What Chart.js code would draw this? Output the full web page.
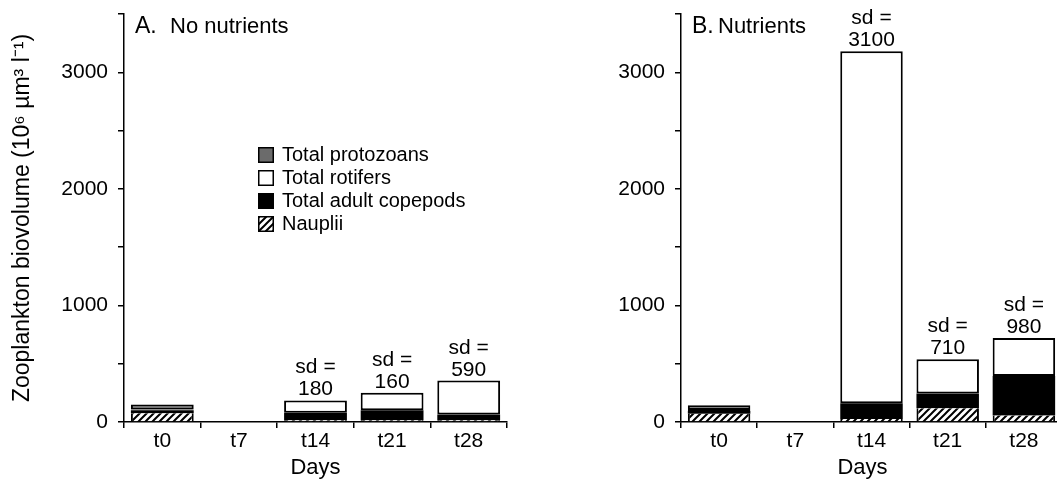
<!DOCTYPE html>
<html>
<head>
<meta charset="utf-8">
<script src="https://cdn.jsdelivr.net/npm/chart.js@4/dist/chart.umd.min.js"></script>
<style>
html, body { margin: 0; padding: 0; background: #fff; overflow: hidden; width: 1057px; height: 483px; }
canvas { position: absolute; top: 0; }
#chartA { left: 0; }
#chartB { left: 540px; }
</style>
</head>
<body>
<canvas id="chartA" width="520" height="483"></canvas>
<canvas id="chartB" width="540" height="483"></canvas>
<script>
// categories
const days = ["t0", "t7", "t14", "t21", "t28"];

// A. No nutrients (10^6 um3 l-1)
const naupliiA    = [75, null, 15, 15, 15];
const copepodsA   = [25, null, 65, 85, 50];
const rotifersA   = [8, null, 105, 150, 290];
const protozoansA = [42, null, 0, 0, 0];
const sdA = [null, null, 180, 160, 590];

// B. Nutrients
const naupliiB    = [70, null, 25, 117, 55];
const copepodsB   = [25, null, 135, 128, 340];
const rotifersB   = [8, null, 3020, 293, 325];
const protozoansB = [40, null, 0, 0, 0];
const sdB = [null, null, 3100, 710, 980];

// y axis ticks
const yMax = 3500;
const yStep = 500;
const yLabelEvery = 1000;

const FONT = '"Liberation Sans", Arial, Helvetica, sans-serif';
Chart.defaults.font.family = FONT;
Chart.defaults.color = "#000";

// diagonal hatch for nauplii
function makeHatch() {
    const c = document.createElement("canvas");
    c.width = 7; c.height = 7;
    const x = c.getContext("2d");
    x.fillStyle = "#fff";
    x.fillRect(0, 0, 7, 7);
    x.strokeStyle = "#000";
    x.lineWidth = 2;
    x.beginPath();
    x.moveTo(-1, 8); x.lineTo(8, -1);
    x.moveTo(-2, 2); x.lineTo(2, -2);
    x.moveTo(5, 9); x.lineTo(9, 5);
    x.stroke();
    return x.createPattern(c, "repeat");
}
const hatch = makeHatch();

// panel letter, x title, sd labels and legend
const extras = {
    id: "extras",
    afterDraw(chart, args, opts) {
        const ctx = chart.ctx;
        const area = chart.chartArea;
        ctx.save();
        ctx.fillStyle = "#000";
        ctx.textBaseline = "alphabetic";
        ctx.textAlign = "left";
        ctx.font = "23px " + FONT;
        ctx.fillText(opts.letter, area.left + 11, area.top + 19);
        ctx.font = "22px " + FONT;
        ctx.fillText(opts.label, area.left + opts.gap, area.top + 19);

        // x axis title (the right panel's is set a little left of centre)
        ctx.textAlign = "center";
        ctx.textBaseline = "middle";
        ctx.font = "22px " + FONT;
        ctx.fillText("Days", (area.left + area.right) / 2 + opts.daysShift, chart.scales.x.bottom - 15);

        // sd labels above stacked bars
        const topMeta = chart.getDatasetMeta(chart.data.datasets.length - 1);
        ctx.textBaseline = "alphabetic";
        ctx.font = "21px " + FONT;
        opts.sd.forEach((v, i) => {
            if (v == null) return;
            const bar = topMeta.data[i];
            ctx.fillText(String(v), bar.x, bar.y - 5);
            ctx.fillText("sd =", bar.x, bar.y - 27);
        });

        // legend
        if (opts.legend) {
            const ds = chart.data.datasets.slice().reverse();
            ctx.textAlign = "left";
            ctx.textBaseline = "middle";
            ctx.font = "20px " + FONT;
            ds.forEach((d, i) => {
                const y = 147 + i * 23;
                ctx.fillStyle = d.backgroundColor;
                ctx.fillRect(258, y, 16, 16);
                ctx.strokeStyle = "#000";
                ctx.lineWidth = 1.5;
                ctx.strokeRect(258.75, y + 0.75, 14.5, 14.5);
                ctx.fillStyle = "#000";
                ctx.fillText(d.label, 282, y + 8);
            });
        }
        ctx.restore();
    }
};

function makeDatasets(nauplii, copepods, rotifers, protozoans) {
    return [
        { label: "Nauplii", data: nauplii, backgroundColor: hatch, borderColor: "#000",
          borderWidth: { left: 2, right: 2, top: 0, bottom: 0 } },
        { label: "Total adult copepods", data: copepods, backgroundColor: "#000", borderColor: "#000", borderWidth: 0 },
        { label: "Total rotifers", data: rotifers, backgroundColor: "#fff", borderColor: "#000", borderWidth: 2, borderSkipped: false },
        { label: "Total protozoans", data: protozoans, backgroundColor: "#6b6b6b", borderColor: "#000", borderWidth: 2, borderSkipped: false }
    ];
}

function makeChart(id, datasets, yWidth, rightPad, showTitle, extraOpts) {
    const ctx = document.getElementById(id).getContext("2d");
    return new Chart(ctx, {
        type: "bar",
        data: { labels: days, datasets: datasets },
        options: {
            responsive: false,
            animation: false,
            devicePixelRatio: 1,
            layout: { padding: { top: 14, right: rightPad, bottom: 0, left: 0 } },
            datasets: { bar: { categoryPercentage: 1, barPercentage: 0.82 } },
            plugins: {
                legend: { display: false },
                tooltip: { enabled: false },
                extras: extraOpts
            },
            scales: {
                x: {
                    stacked: true,
                    afterFit: s => { s.height = 61; s.paddingLeft = 0; s.paddingRight = 0; },
                    grid: { drawOnChartArea: false, drawTicks: true, tickLength: 6, color: "#000", lineWidth: 1.5, offset: true },
                    border: { color: "#000", width: 1.5 },
                    ticks: { font: { size: 21 }, color: "#000", padding: 1 },
                    title: { display: false }
                },
                y: {
                    stacked: true,
                    min: 0,
                    max: yMax,
                    afterFit: s => { s.width = yWidth; s.paddingTop = 0; s.paddingBottom = 0; },
                    grid: { drawOnChartArea: false, drawTicks: true, tickLength: 6, color: "#000", lineWidth: 1.5 },
                    border: { color: "#000", width: 1.5 },
                    ticks: {
                        stepSize: yStep,
                        font: { size: 21 },
                        color: "#000",
                        padding: 10,
                        callback: v => (v % yLabelEvery === 0 ? v : "")
                    },
                    title: {
                        display: showTitle,
                        text: "Zooplankton biovolume (10\u2076 \u00b5m\u00b3 l\u207b\u00b9)",
                        font: { size: 23 },
                        color: "#000",
                        padding: { top: 9, bottom: 0 }
                    }
                }
            }
        },
        plugins: [extras]
    });
}

makeChart("chartA", makeDatasets(naupliiA, copepodsA, rotifersA, protozoansA), 124, 13, true,
    { letter: "A.", label: "No nutrients", gap: 46, sd: sdA, legend: true, daysShift: 0 });
makeChart("chartB", makeDatasets(naupliiB, copepodsB, rotifersB, protozoansB), 141, 18, false,
    { letter: "B.", label: "Nutrients", gap: 37, sd: sdB, legend: false, daysShift: -9 });
</script>
</body>
</html>
